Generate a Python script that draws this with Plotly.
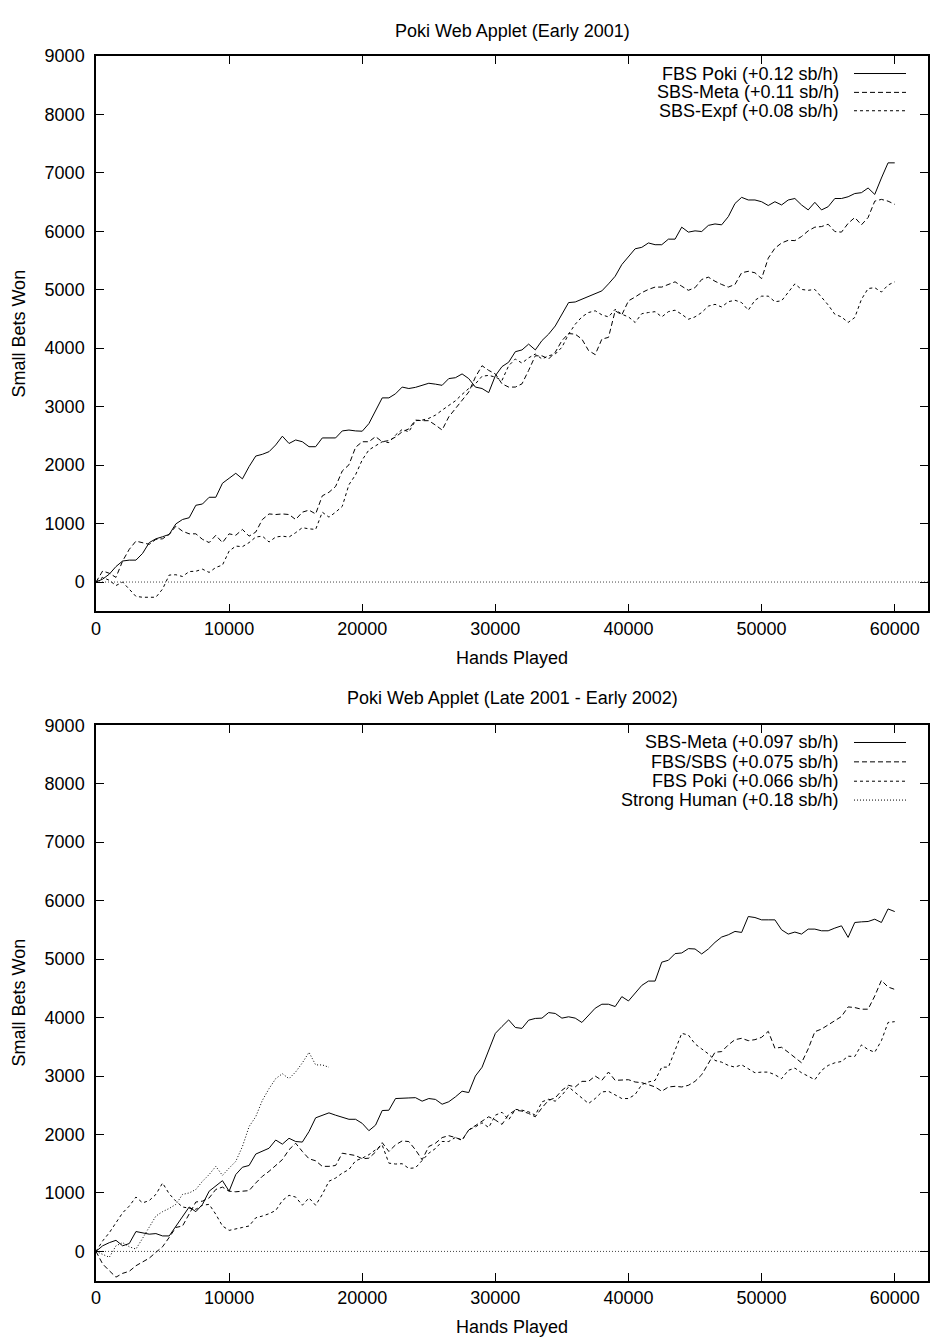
import plotly.graph_objects as go

# ---------------- data ----------------
HANDS = list(range(0, 60001, 500))

TOP_FBS_POKI = [
    0, 50, 135, 265, 360, 375, 375, 490, 675, 740,
    775, 815, 995, 1070, 1100, 1313, 1335, 1450, 1450, 1690,
    1775, 1860, 1765, 1975, 2155, 2185, 2230, 2345, 2495, 2370,
    2430, 2400, 2315, 2315, 2465, 2465, 2465, 2585, 2600, 2585,
    2580, 2710, 2935, 3150, 3150, 3220, 3335, 3310, 3330, 3370,
    3400, 3385, 3365, 3480, 3495, 3560, 3480, 3335, 3310, 3240,
    3530, 3685, 3760, 3940, 3970, 4070, 3970, 4130, 4240, 4380,
    4580, 4780, 4790, 4835, 4890, 4930, 4980, 5100, 5230, 5430,
    5570, 5700, 5725, 5800, 5770, 5770, 5865, 5865, 6070, 5985,
    6007, 5995, 6100, 6125, 6110, 6250, 6475, 6580, 6535, 6535,
    6505, 6440, 6505, 6450, 6535, 6560, 6450, 6365, 6495, 6365,
    6420, 6560, 6560, 6590, 6645, 6660, 6740, 6630, 6910, 7170,
    7170]

TOP_SBS_META = [
    0, 190, 150, 80, 360, 560, 700, 675, 645, 730,
    740, 815, 955, 870, 825, 825, 730, 675, 800, 675,
    825, 800, 900, 785, 855, 1070, 1165, 1155, 1165, 1155,
    1070, 1195, 1230, 1165, 1475, 1535, 1635, 1900, 2005, 2305,
    2400, 2400, 2487, 2400, 2420, 2480, 2570, 2620, 2770, 2760,
    2760, 2685, 2600, 2825, 2970, 3110, 3250, 3505, 3700, 3620,
    3560, 3390, 3335, 3335, 3390, 3620, 3870, 3870, 3815, 3930,
    4130, 4250, 4240, 4155, 3960, 3890, 4155, 4185, 4640, 4570,
    4810, 4875, 4950, 5005, 5045, 5045, 5090, 5135, 5060, 4990,
    5035, 5175, 5215, 5145, 5090, 5045, 5090, 5290, 5315, 5290,
    5190, 5540, 5710, 5800, 5845, 5840, 5910, 6007, 6070, 6080,
    6120, 5995, 5985, 6135, 6235, 6110, 6235, 6515, 6545, 6515,
    6460]

TOP_SBS_EXPF = [
    0, 80, 30, -60, 0, -120, -245, -260, -260, -260,
    -120, 120, 125, 95, 180, 185, 220, 165, 250, 290,
    530, 615, 605, 675, 770, 785, 685, 770, 785, 770,
    845, 930, 910, 900, 1195, 1110, 1195, 1295, 1665, 1835,
    2090, 2260, 2330, 2400, 2385, 2515, 2610, 2570, 2760, 2770,
    2800, 2855, 2940, 3025, 3100, 3210, 3310, 3390, 3520, 3535,
    3505, 3450, 3700, 3815, 3745, 3835, 3900, 3815, 3870, 3900,
    4015, 4240, 4410, 4535, 4610, 4640, 4570, 4535, 4665, 4580,
    4535, 4440, 4590, 4610, 4625, 4535, 4625, 4650, 4580, 4495,
    4535, 4610, 4720, 4750, 4705, 4795, 4820, 4780, 4650, 4820,
    4890, 4890, 4795, 4810, 4950, 5100, 5005, 4990, 5005, 4875,
    4740, 4580, 4535, 4440, 4525, 4835, 5020, 5035, 4960, 5080,
    5135]

BOT_SBS_META = [
    0, 96, 150, 190, 96, 135, 340, 320, 295, 305,
    265, 265, 435, 590, 760, 680, 805, 1030, 1115, 1210,
    1030, 1315, 1440, 1470, 1665, 1720, 1765, 1905, 1835, 1935,
    1880, 1870, 2050, 2285, 2330, 2370, 2330, 2290, 2260, 2260,
    2190, 2065, 2160, 2410, 2415, 2615, 2615, 2625, 2630, 2570,
    2615, 2600, 2518, 2560, 2643, 2740, 2717, 3000, 3150, 3435,
    3730, 3848, 3960, 3830, 3815, 3955, 3985, 3990, 4085, 4070,
    3990, 4013, 3990, 3916, 4030, 4160, 4228, 4228, 4188, 4358,
    4284, 4425, 4550, 4624, 4624, 4947, 4980, 5094, 5105, 5179,
    5173, 5088, 5173, 5286, 5377, 5416, 5473, 5456, 5728, 5711,
    5671, 5671, 5671, 5501, 5428, 5462, 5428, 5513, 5513, 5484,
    5484, 5530, 5569, 5371, 5626, 5637, 5643, 5682, 5626, 5858,
    5813]

BOT_FBS_SBS = [
    0, -215, -330, -440, -375, -340, -245, -185, -115, -15,
    80, 240, 410, 435, 635, 845, 860, 915, 1060, 1100,
    1030, 1020, 1030, 1040, 1170, 1285, 1370, 1465, 1570, 1740,
    1850, 1710, 1585, 1550, 1455, 1455, 1470, 1680, 1655, 1640,
    1585, 1595, 1700, 1860, 1710, 1822, 1890, 1879, 1737, 1568,
    1794, 1850, 1947, 1980, 1947, 1907, 2077, 2150, 2218, 2303,
    2247, 2173, 2343, 2416, 2400, 2360, 2303, 2456, 2586, 2626,
    2756, 2841, 2813, 2909, 2909, 3000, 2926, 3068, 2926, 2937,
    2937, 2898, 2886, 2852, 2813, 2739, 2813, 2824, 2813, 2841,
    2909, 3022, 3220, 3407, 3418, 3532, 3622, 3645, 3605, 3622,
    3662, 3764, 3475, 3492, 3407, 3322, 3226, 3464, 3758, 3803,
    3871, 3945, 4018, 4182, 4171, 4143, 4143, 4369, 4635, 4522,
    4482]

BOT_FBS_POKI = [
    0, 180, 320, 490, 660, 775, 930, 830, 870, 975,
    1170, 985, 860, 760, 735, 720, 790, 805, 635, 435,
    360, 380, 410, 435, 575, 605, 645, 700, 870, 960,
    930, 790, 915, 790, 975, 1200, 1255, 1340, 1400, 1550,
    1595, 1655, 1740, 1820, 1510, 1495, 1500, 1420, 1430, 1560,
    1680, 1760, 1880, 1880, 1950, 1900, 2080, 2130, 2200, 2120,
    2330, 2380, 2250, 2430, 2416, 2388, 2330, 2558, 2603, 2570,
    2672, 2813, 2717, 2615, 2530, 2615, 2728, 2739, 2672, 2615,
    2615, 2683, 2853, 2898, 2926, 3152, 3152, 3452, 3730, 3701,
    3549, 3464, 3379, 3266, 3237, 3181, 3152, 3192, 3124, 3056,
    3067, 3067, 3022, 2954, 3096, 3135, 3056, 3000, 2937, 3096,
    3181, 3226, 3249, 3339, 3334, 3532, 3452, 3407, 3605, 3916,
    3930]

STRONG_HUMAN = [
    0, -55, -100, 96, 150, 80, 40, 225, 410, 605,
    680, 735, 805, 975, 1000, 1060, 1200, 1315, 1455, 1300,
    1425, 1540, 1795, 2135, 2305, 2585, 2785, 2955, 3040, 2955,
    3070, 3225, 3405, 3190, 3190, 3150]

TOP_TITLE = "Poki Web Applet (Early 2001)"
BOT_TITLE = "Poki Web Applet (Late 2001 - Early 2002)"
TOP_LABELS = ["FBS Poki (+0.12 sb/h)", "SBS-Meta (+0.11 sb/h)", "SBS-Expf (+0.08 sb/h)"]
BOT_LABELS = ["SBS-Meta (+0.097 sb/h)", "FBS/SBS (+0.075 sb/h)",
              "FBS Poki (+0.066 sb/h)", "Strong Human (+0.18 sb/h)"]

# ---------------- layout geometry ----------------
W, H = 930, 1341
L, R = 96, 2
PW = W - L - R
FONT = "Liberation Sans, Arial, Helvetica, sans-serif"
FS = 18

def px(x):
    return (x - L) / PW

def py(y):
    return 1 - y / H

SOLID = "solid"
DASH = "5px,3px"
SHORT = "3px,3px"
DOT = "1px,2px"

fig = go.Figure()

top_series = [(TOP_FBS_POKI, SOLID), (TOP_SBS_META, DASH), (TOP_SBS_EXPF, SHORT)]
for (vals, dash), name in zip(top_series, TOP_LABELS):
    fig.add_trace(go.Scatter(x=HANDS[:len(vals)], y=vals, mode="lines", name=name,
                             line=dict(color="black", width=1, dash=dash),
                             xaxis="x", yaxis="y", showlegend=False))

bot_series = [(BOT_SBS_META, SOLID), (BOT_FBS_SBS, DASH), (BOT_FBS_POKI, SHORT),
              (STRONG_HUMAN, DOT)]
for (vals, dash), name in zip(bot_series, BOT_LABELS):
    fig.add_trace(go.Scatter(x=HANDS[:len(vals)], y=vals, mode="lines", name=name,
                             line=dict(color="black", width=1, dash=dash),
                             xaxis="x2", yaxis="y2", showlegend=False))

axis_common = dict(
    ticks="inside", ticklen=8, tickwidth=1, tickcolor="black",
    showline=True, linecolor="black", linewidth=1.5, mirror="ticks",
    showgrid=False, zeroline=False,
    tickfont=dict(family=FONT, size=FS, color="black"),
)
xcommon = dict(axis_common, range=[0, 62500], tick0=0, dtick=10000,
               tickformat="d", ticklabelstandoff=0)
ycommon = dict(axis_common, range=[-500, 9000], tick0=0, dtick=1000,
               tickformat="d", ticklabelstandoff=6)

top_dom = [py(605.8), py(46.2)]
bot_dom = [py(1280.2), py(720.6)]

fig.update_layout(
    width=W, height=H,
    margin=dict(l=L, r=R, t=0, b=0, pad=0),
    paper_bgcolor="white", plot_bgcolor="white",
    font=dict(family=FONT, size=FS, color="black"),
    xaxis=dict(xcommon, domain=[0, 1], anchor="y"),
    yaxis=dict(ycommon, domain=top_dom, anchor="x"),
    xaxis2=dict(xcommon, domain=[0, 1], anchor="y2"),
    yaxis2=dict(ycommon, domain=bot_dom, anchor="x2"),
)

shapes = []
# zero lines
for xr, yr in (("x domain", "y"), ("x2 domain", "y2")):
    shapes.append(dict(type="line", xref=xr, yref=yr, x0=0, x1=1, y0=0, y1=0,
                       line=dict(color="#444", width=1, dash=DOT), layer="below"))

annotations = []
def text(x, y, s, xanchor="center", angle=0):
    annotations.append(dict(x=px(x), y=py(y), xref="paper", yref="paper", text=s,
                            showarrow=False, xanchor=xanchor, yanchor="middle",
                            textangle=angle, font=dict(family=FONT, size=FS, color="black")))

# titles
text(512, 21, TOP_TITLE)
text(512, 693, BOT_TITLE)
text(512, 653, "Hands Played")
text(512, 1327, "Hands Played")
text(19, 326, "Small Bets Won", angle=-90)
text(19, 1000, "Small Bets Won", angle=-90)

# legends (gnuplot style: text right-aligned, sample on the right)
def legend(rows, labels, dashes):
    for y, lab, dash in zip(rows, labels, dashes):
        text(841, y, lab, xanchor="right")
        shapes.append(dict(type="line", xref="paper", yref="paper",
                           x0=px(854), x1=px(906), y0=py(y), y1=py(y),
                           line=dict(color="black", width=1, dash=dash)))

legend([64, 83, 101.5], TOP_LABELS, [SOLID, DASH, SHORT])
legend([738, 757.5, 777, 796], BOT_LABELS, [SOLID, DASH, SHORT, DOT])

fig.update_layout(shapes=shapes, annotations=annotations)
fig.write_html("out.html")
